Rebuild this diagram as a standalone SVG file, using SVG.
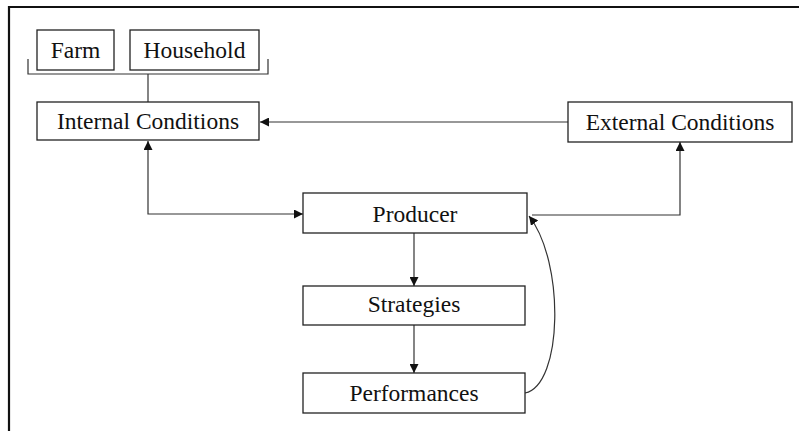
<svg xmlns="http://www.w3.org/2000/svg" width="799" height="431" viewBox="0 0 799 431">
<style>
.box{fill:#fff;stroke:#222;stroke-width:1.3}
.t{font-family:"Liberation Serif","Times New Roman",serif;font-size:23.5px;fill:#111;text-anchor:middle}
.c{fill:none;stroke:#333;stroke-width:1.2}
</style>
<defs>
<marker id="ah" viewBox="0 0 10 10" refX="10" refY="5" markerWidth="9" markerHeight="9" markerUnits="userSpaceOnUse" orient="auto-start-reverse">
<path d="M0,0 L10,5 L0,10 z" fill="#111"/>
</marker>
</defs>
<rect x="0" y="0" width="799" height="431" fill="#fff"/>
<path d="M9,431 L9,7 L799,7" fill="none" stroke="#111" stroke-width="2.2"/>
<g id="connectors">
<path class="c" d="M28,59 L28,74 L268,74 L268,59"/>
<path class="c" d="M148,74 L148,102"/>
<path class="c" d="M568,122 L260,122" marker-end="url(#ah)"/>
<path class="c" d="M148,141 L148,214 L303,214" marker-start="url(#ah)" marker-end="url(#ah)"/>
<path class="c" d="M680,142 L680,215 L532,215" marker-start="url(#ah)"/>
<path class="c" d="M414,233 L414,286" marker-end="url(#ah)"/>
<path class="c" d="M414,325 L414,373" marker-end="url(#ah)"/>
<path class="c" d="M525,393 C563,385 565,262 529,216" marker-end="url(#ah)"/>
</g>
<g id="farm"><rect class="box" x="37" y="30" width="77" height="40"/><text class="t" x="75.5" y="58">Farm</text></g>
<g id="household"><rect class="box" x="130" y="30" width="129" height="40"/><text class="t" x="194.5" y="58">Household</text></g>
<g id="internal"><rect class="box" x="37" y="102" width="222" height="38"/><text class="t" x="148" y="129">Internal Conditions</text></g>
<g id="external"><rect class="box" x="568" y="102" width="224" height="40"/><text class="t" x="680" y="130">External Conditions</text></g>
<g id="producer"><rect class="box" x="303" y="193" width="224" height="40"/><text class="t" x="415" y="222">Producer</text></g>
<g id="strategies"><rect class="box" x="303" y="286" width="222" height="39"/><text class="t" x="414" y="312">Strategies</text></g>
<g id="performances"><rect class="box" x="303" y="373" width="222" height="40"/><text class="t" x="414" y="401">Performances</text></g>
</svg>
